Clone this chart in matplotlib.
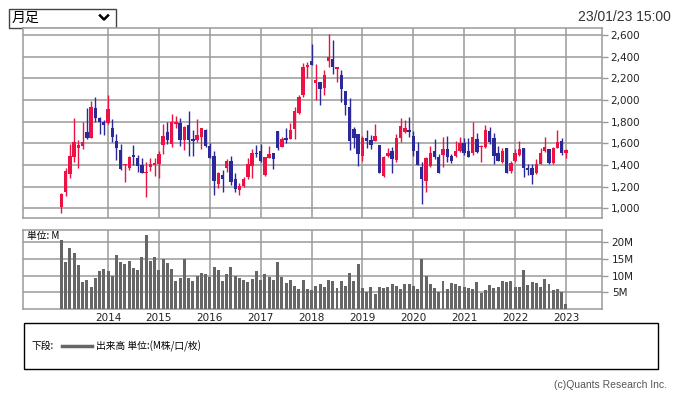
import numpy as np
import pandas as pd
import matplotlib.pyplot as plt
from matplotlib.patches import Rectangle

plt.rcParams['font.family'] = ['DejaVu Sans', 'Noto Sans CJK JP']

# 月足データ 2013/02 - 2023/01
months = pd.period_range('2013-02', '2023-01', freq='M')

opens = [1009, 1148, 1314, 1477, 1560, 1578, 1702, 1652, 1929, 1834, 1800,
         1785, 1745, 1622, 1538, 1395, 1369, 1492, 1462, 1400, 1323, 1382, 1400,
         1406, 1585, 1708, 1591, 1782, 1785, 1631, 1769, 1640, 1631, 1662, 1723,
         1578, 1486, 1228, 1308, 1375, 1437, 1271, 1169, 1206, 1292, 1394, 1514,
         1530, 1309, 1463, 1515, 1714, 1570, 1653, 1644, 1733, 1883, 2046, 2301,
         2359, 2160, 2169, 2114, 2361, 2375, 2285, 2230, 2086, 1932, 1736, 1687,
         1480, 1650, 1631, 1625, 1585, 1298, 1484, 1529, 1446, 1652, 1708, 1723,
         1671, 1526, 1385, 1250, 1394, 1526, 1477, 1495, 1548, 1486, 1480, 1532,
         1605, 1530, 1506, 1639, 1570, 1567, 1716, 1645, 1506, 1428, 1558, 1345,
         1437, 1490, 1552, 1375, 1375, 1326, 1406, 1530, 1546, 1419, 1558, 1623,
         1512]
highs = [1138, 1369, 1591, 1837, 1631, 1800, 1929, 1991, 2028, 1840, 1815,
         2046, 1825, 1683, 1591, 1410, 1483, 1585, 1492, 1468, 1431, 1462, 1468,
         1530, 1775, 1800, 1868, 1852, 1831, 1760, 1898, 1723, 1825, 1745, 1729,
         1600, 1529, 1332, 1354, 1455, 1486, 1323, 1231, 1292, 1462, 1548, 1585,
         1590, 1478, 1576, 1515, 1714, 1656, 1745, 1791, 1932, 2046, 2338, 2353,
         2516, 2328, 2169, 2276, 2608, 2553, 2304, 2276, 2086, 2015, 1748, 1687,
         1665, 1723, 1677, 1775, 1585, 1480, 1560, 1569, 1683, 1837, 1815, 1840,
         1717, 1609, 1425, 1471, 1575, 1640, 1502, 1662, 1671, 1502, 1618, 1662,
         1645, 1645, 1800, 1691, 1583, 1769, 1753, 1698, 1574, 1561, 1558, 1437,
         1543, 1623, 1552, 1412, 1406, 1459, 1552, 1654, 1546, 1567, 1722, 1645,
         1549]
lows = [954, 1114, 1277, 1431, 1375, 1548, 1640, 1652, 1800, 1690, 1675,
        1775, 1615, 1446, 1350, 1240, 1354, 1400, 1338, 1323, 1108, 1345, 1302,
        1280, 1498, 1591, 1569, 1745, 1578, 1538, 1486, 1486, 1609, 1548, 1569,
        1468, 1123, 1185, 1154, 1332, 1215, 1154, 1123, 1200, 1271, 1283, 1477,
        1431, 1300, 1463, 1361, 1540, 1564, 1607, 1638, 1644, 1871, 2025, 2200,
        2322, 2000, 1954, 2046, 2301, 2240, 2169, 1985, 1862, 1540, 1555, 1386,
        1440, 1554, 1548, 1625, 1329, 1290, 1470, 1330, 1431, 1615, 1692, 1660,
        1486, 1403, 1043, 1148, 1385, 1455, 1323, 1385, 1425, 1415, 1474, 1517,
        1496, 1475, 1496, 1512, 1428, 1558, 1589, 1412, 1437, 1419, 1326, 1329,
        1428, 1481, 1288, 1304, 1220, 1319, 1406, 1521, 1406, 1412, 1558, 1496,
        1468]
closes = [1132, 1345, 1483, 1609, 1585, 1609, 1646, 1938, 1837, 1794, 1769,
          1917, 1662, 1560, 1363, 1405, 1477, 1477, 1394, 1329, 1338, 1410, 1415,
          1498, 1671, 1631, 1794, 1800, 1631, 1754, 1631, 1622, 1677, 1738, 1578,
          1468, 1252, 1323, 1271, 1437, 1246, 1178, 1206, 1271, 1406, 1508, 1502,
          1440, 1472, 1503, 1457, 1555, 1638, 1632, 1724, 1902, 2031, 2307, 2322,
          2322, 2184, 2101, 2230, 2399, 2307, 2304, 2098, 1954, 1625, 1647, 1503,
          1645, 1622, 1585, 1671, 1329, 1477, 1515, 1455, 1652, 1760, 1745, 1708,
          1526, 1403, 1271, 1462, 1514, 1471, 1323, 1548, 1471, 1434, 1526, 1600,
          1506, 1475, 1660, 1521, 1575, 1722, 1614, 1484, 1437, 1530, 1326, 1419,
          1506, 1546, 1375, 1350, 1304, 1406, 1512, 1568, 1419, 1558, 1614, 1512,
          1536]
# 出来高 (M)
volumes = [20.6, 13.9, 18.3, 16.6, 13.0, 8.1, 8.6, 6.7, 9.2, 11.3, 12.0,
           11.4, 9.9, 16.1, 13.9, 13.3, 14.2, 12.3, 11.7, 15.4, 22.2, 14.4, 15.6,
           11.8, 14.8, 13.7, 12.0, 8.4, 9.2, 15.0, 9.2, 8.3, 9.9, 10.7, 10.4,
           9.5, 12.6, 11.8, 8.4, 10.4, 12.6, 10.0, 9.2, 8.7, 8.0, 8.9, 11.3,
           8.6, 10.4, 9.5, 8.7, 14.0, 9.5, 7.7, 8.6, 6.9, 6.0, 8.6, 6.0,
           5.6, 7.0, 7.4, 6.7, 8.6, 8.3, 6.3, 8.3, 6.9, 10.7, 8.3, 13.5,
           6.3, 5.0, 6.5, 4.5, 6.6, 6.3, 6.6, 7.4, 7.0, 5.9, 7.4, 7.6,
           6.8, 5.9, 14.9, 9.9, 7.4, 6.2, 5.2, 8.3, 6.0, 7.7, 7.4, 6.9,
           6.6, 6.4, 5.9, 8.0, 4.8, 5.7, 7.1, 6.3, 6.7, 8.5, 8.2, 8.3,
           6.7, 6.7, 11.7, 7.2, 8.2, 7.7, 6.6, 8.9, 7.5, 5.8, 6.0, 5.1,
           1.6]

price_ticks = [1000, 1200, 1400, 1600, 1800, 2000, 2200, 2400, 2600]
vol_ticks = [5, 10, 15, 20]

o = np.array(opens); h = np.array(highs); l = np.array(lows); c = np.array(closes)
x = np.arange(len(months))
up = c >= o
colors = np.where(up, '#ee1144', '#2b2899')
year_pos = x[months.month == 1]
year_lbl = [str(m.year) for m in months[months.month == 1]]

W, H = 676, 395
fig = plt.figure(figsize=(W / 100, H / 100), dpi=100)
grid_c = '#9a9a9a'

def panel(top, bottom):
    return fig.add_axes([23 / W, 1 - bottom / H, 579 / W, (bottom - top) / H])

# 上段: ローソク足
ax = panel(28, 218)
ax.vlines(x, l, h, colors=colors, linewidth=1.0, zorder=3)
body = np.maximum(np.abs(c - o), 8)
ax.bar(x, body, bottom=np.minimum(o, c), width=0.8, color=colors, zorder=4)
ax.set_xlim(-9.05, 127.5)
ax.set_ylim(910, 2665)
ax.set_yticks(price_ticks)
ax.set_yticklabels([f'{v:,}' for v in price_ticks])
ax.set_xticks(year_pos)
ax.tick_params(axis='x', length=0, labelbottom=False)
ax.yaxis.tick_right()
ax.tick_params(axis='y', length=4, width=1, color=grid_c, pad=2, labelsize=7.5, labelcolor='#222')
ax.grid(True, color=grid_c, linewidth=1.1, zorder=0)
for s in ax.spines.values():
    s.set_color(grid_c)
    s.set_linewidth(1.1)

# 下段: 出来高
axv = panel(230, 309)
axv.bar(x, volumes, width=0.7, color='#666666', zorder=3)
axv.set_xlim(-9.05, 127.5)
axv.set_ylim(0, 23.6)
axv.set_yticks(vol_ticks)
axv.set_yticklabels([f'{v}M' for v in vol_ticks])
axv.set_xticks(year_pos)
axv.set_xticklabels(year_lbl)
axv.yaxis.tick_right()
axv.tick_params(axis='y', length=4, width=1, color=grid_c, pad=3, labelsize=7.5, labelcolor='#222')
axv.tick_params(axis='x', length=0, pad=3, labelsize=7.5, labelcolor='#222')
axv.grid(True, color=grid_c, linewidth=1.1, zorder=0)
for s in axv.spines.values():
    s.set_color(grid_c)
    s.set_linewidth(1.1)
axv.text(0.007, 0.92, '単位: M', transform=axv.transAxes, fontsize=7,
         family=['Noto Sans CJK JP', 'DejaVu Sans'], va='center', zorder=5)

# 装飾 (ピクセル座標)
deco = fig.add_axes([0, 0, 1, 1], zorder=-1)
deco.set_xlim(0, W)
deco.set_ylim(H, 0)
deco.axis('off')
deco.add_patch(Rectangle((8.5, 8.5), 107, 19, facecolor='white', edgecolor='#444', linewidth=1))
deco.text(12, 18, '月足', fontsize=10, family=['Noto Sans CJK JP'], va='center')
deco.plot([100, 104, 108], [15.5, 19.5, 15.5], color='black', linewidth=1.8)
deco.text(671, 17, '23/01/23 15:00', fontsize=10, family=['Liberation Sans'],
          ha='right', va='center', color='#333')
deco.add_patch(Rectangle((23.5, 322.5), 634, 46, facecolor='none', edgecolor='black', linewidth=1))
deco.text(32, 346, '下段:', fontsize=7, family=['Noto Sans CJK JP'], va='center')
deco.plot([62, 92], [346, 346], color='#666666', linewidth=2.5)
deco.text(96, 346, '出来高 単位:(M株/口/枚)', fontsize=7, family=['Noto Sans CJK JP'], va='center')
deco.text(667, 385, '(c)Quants Research Inc.', fontsize=7.5, family=['Liberation Sans'],
          ha='right', va='center', color='#555')

fig.savefig('out.png', dpi=100, facecolor='white')
